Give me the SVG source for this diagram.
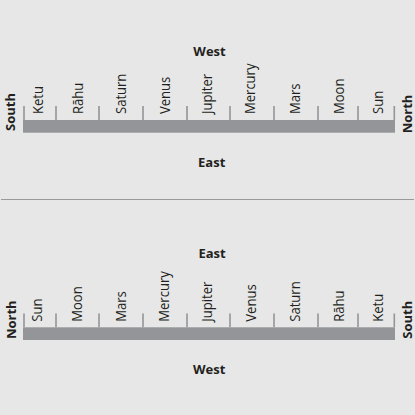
<svg xmlns="http://www.w3.org/2000/svg" width="415" height="415" viewBox="0 0 415 415">
<style>
.bg{fill:#e7e7e7}
.bar{fill:#939598}
.tick{stroke:#939598;stroke-width:1.6;fill:none}
.sep{stroke:#9a9a9a;stroke-width:1.2}
.pl{font-family:"Open Sans","Noto Sans",sans-serif;font-size:15px;fill:#231f20}
.dir{font-family:"Open Sans","Noto Sans",sans-serif;font-size:13px;font-weight:bold;fill:#231f20;text-anchor:middle}
</style>
<rect class="bg" x="0" y="0" width="415" height="415"/>
<line class="sep" x1="1" y1="199.5" x2="414" y2="199.5"/>

<!-- Top diagram -->
<g id="top-bar">
<rect class="bar" x="23" y="120" width="372" height="12.7"/>
</g>
<g id="top-ticks">
<path class="tick" d="M24,106V120M56,106V120M99,106V120M143,106V120M187,106V120M230,106V120M274,106V120M318,106V120M358,106V120M394.3,106V120"/>
</g>
<g id="top-labels">
<g id="t-ketu"><text class="pl" transform="translate(42.5,114) rotate(-90) scale(0.87,1)">Ketu</text></g>
<g id="t-rahu"><text class="pl" transform="translate(82.5,114) rotate(-90) scale(0.87,1)">Rāhu</text></g>
<g id="t-saturn"><text class="pl" transform="translate(125.5,114) rotate(-90) scale(0.87,1)">Saturn</text></g>
<g id="t-venus"><text class="pl" transform="translate(169.5,114) rotate(-90) scale(0.87,1)">Venus</text></g>
<g id="t-jupiter"><text class="pl" transform="translate(211.5,114) rotate(-90) scale(0.87,1)">Jupiter</text></g>
<g id="t-mercury"><text class="pl" transform="translate(254.5,114) rotate(-90) scale(0.87,1)">Mercury</text></g>
<g id="t-mars"><text class="pl" transform="translate(300,114) rotate(-90) scale(0.87,1)">Mars</text></g>
<g id="t-moon"><text class="pl" transform="translate(344,114) rotate(-90) scale(0.87,1)">Moon</text></g>
<g id="t-sun"><text class="pl" transform="translate(382.5,114) rotate(-90) scale(0.87,1)">Sun</text></g>
</g>
<g id="top-dirs">
<text class="dir" x="209.5" y="55.7">West</text>
<text class="dir" x="211.7" y="166.7">East</text>
<text class="dir" transform="translate(15,112) rotate(-90)">South</text>
<text class="dir" transform="translate(412,114) rotate(-90)">North</text>
</g>

<!-- Bottom diagram -->
<g id="bottom-bar">
<rect class="bar" x="23" y="327.3" width="372" height="12.7"/>
</g>
<g id="bottom-ticks">
<path class="tick" d="M24,313.5V327.3M56,313.5V327.3M99,313.5V327.3M143,313.5V327.3M187,313.5V327.3M230,313.5V327.3M274,313.5V327.3M318,313.5V327.3M358,313.5V327.3M394.3,313.5V327.3"/>
</g>
<g id="bottom-labels">
<g id="b-sun"><text class="pl" transform="translate(42.3,321.7) rotate(-90) scale(0.87,1)">Sun</text></g>
<g id="b-moon"><text class="pl" transform="translate(82.3,321.7) rotate(-90) scale(0.87,1)">Moon</text></g>
<g id="b-mars"><text class="pl" transform="translate(125.7,321.7) rotate(-90) scale(0.87,1)">Mars</text></g>
<g id="b-mercury"><text class="pl" transform="translate(168.5,321.7) rotate(-90) scale(0.87,1)">Mercury</text></g>
<g id="b-jupiter"><text class="pl" transform="translate(211.8,321.7) rotate(-90) scale(0.87,1)">Jupiter</text></g>
<g id="b-venus"><text class="pl" transform="translate(256,321.7) rotate(-90) scale(0.87,1)">Venus</text></g>
<g id="b-saturn"><text class="pl" transform="translate(300,321.7) rotate(-90) scale(0.87,1)">Saturn</text></g>
<g id="b-rahu"><text class="pl" transform="translate(344.3,321.7) rotate(-90) scale(0.87,1)">Rāhu</text></g>
<g id="b-ketu"><text class="pl" transform="translate(382.7,321.7) rotate(-90) scale(0.87,1)">Ketu</text></g>
</g>
<g id="bottom-dirs">
<text class="dir" x="212" y="257.7">East</text>
<text class="dir" x="209.2" y="374">West</text>
<text class="dir" transform="translate(15.5,319.7) rotate(-90)">North</text>
<text class="dir" transform="translate(412,319.7) rotate(-90)">South</text>
</g>
</svg>
